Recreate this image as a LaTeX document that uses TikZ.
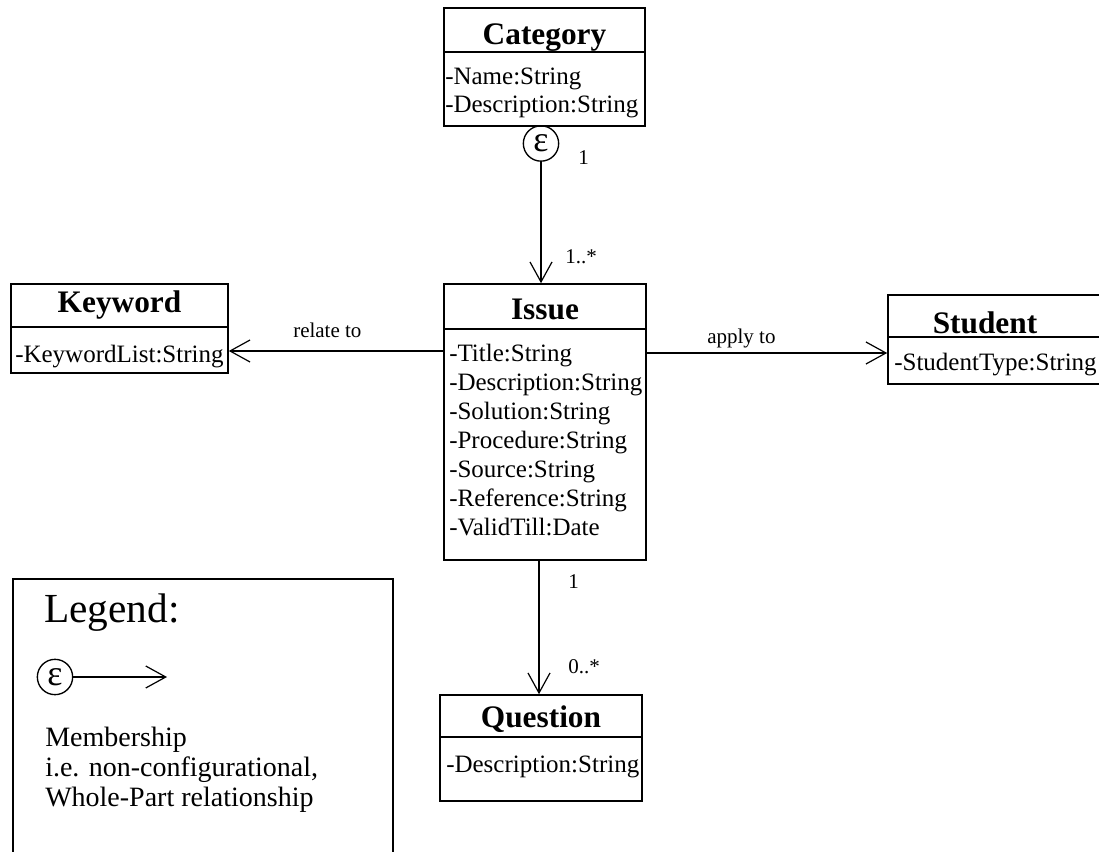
\documentclass[tikz,border=0pt]{standalone}
\usepackage{fontspec}
\setmainfont{Liberation Serif}
\usetikzlibrary{fit,arrows.meta}
\begin{document}
\begin{tikzpicture}[x=0.75pt,y=-0.75pt,
  classbox/.style={draw, line width=1.2pt, inner sep=0pt},
  sepline/.style={line width=1.2pt},
  head/.style={font=\fontsize{23.5}{28}\selectfont\bfseries, anchor=base, inner sep=0pt},
  attr/.style={font=\fontsize{18.75}{22}\selectfont, anchor=base west, inner sep=0pt},
  lbl/.style={font=\fontsize{15.75}{19}\selectfont, anchor=base west, inner sep=0pt},
  assoc/.style={line width=0.9pt, -{Straight Barb[length=15pt,width=16.5pt,line width=0.9pt]}},
  member/.style={draw, circle, line width=1pt, inner sep=0pt, minimum size=26.5pt,
    font=\fontsize{27}{27}\selectfont},
  legtext/.style={font=\fontsize{21}{23}\selectfont, anchor=base west, inner sep=0pt}]
\useasboundingbox (0,0) rectangle (1099,852);
\clip (0,0) rectangle (1099,852);

% Category
\node[classbox, fit={(444,8) (645,126)}] (cat) {};
\draw[sepline] (444,52) -- (645,52);
\node[head] (cathead) at (544.5,45) {Category};
\node[attr] (cata1) at (445,85) {-Name:String};
\node[attr] (cata2) at (445,113) {-Description:String};
\node[member] (eps1) at (541,143.5) {ε};

% Issue
\node[classbox, fit={(444,284) (646,560)}] (issue) {};
\draw[sepline] (444,329) -- (646,329);
\node[head] (isshead) at (545,320) {Issue};
\node[attr] (issa1) at (449,361) {-Title:String};
\node[attr] (issa2) at (449,390) {-Description:String};
\node[attr] (issa3) at (449,419) {-Solution:String};
\node[attr] (issa4) at (449,448) {-Procedure:String};
\node[attr] (issa5) at (449,477) {-Source:String};
\node[attr] (issa6) at (449,506) {-Reference:String};
\node[attr] (issa7) at (449,535) {-ValidTill:Date};

% Keyword
\node[classbox, fit={(11,284) (228,373)}] (kw) {};
\draw[sepline] (11,327) -- (228,327);
\node[head] (kwhead) at (119.5,312) {Keyword};
\node[attr] (kwa1) at (15,362) {-KeywordList:String};

% Student
\node[classbox, fit={(888,295) (1110,384)}] (stu) {};
\draw[sepline] (888,337) -- (1110,337);
\node[head] (stuhead) at (985,333) {Student};
\node[attr] (stua1) at (894,370) {-StudentType:String};

% Question
\node[classbox, fit={(440,695) (642,801)}] (quest) {};
\draw[sepline] (440,737) -- (642,737);
\node[head] (qhead) at (541,727) {Question};
\node[attr] (qa1) at (446,772) {-Description:String};

% Associations
\draw[assoc] (eps1.south) -- (eps1.south |- issue.north);
\node[lbl] (m1) at (578,165) {1};
\node[lbl] (m2) at (565,263) {1..*};

\coordinate (rel) at (0,351);
\draw[assoc] (rel -| issue.west) -- (rel -| kw.east);
\node[lbl] (rlabel) at (293,337) {relate to};

\coordinate (app) at (0,353);
\draw[assoc] (app -| issue.east) -- (app -| stu.west);
\node[lbl] (alabel) at (707,343) {apply to};

\coordinate (qx) at (539,0);
\draw[assoc] (qx |- issue.south) -- (qx |- quest.north);
\node[lbl] (m3) at (568,588) {1};
\node[lbl] (m4) at (568,673) {0..*};

% Legend
\node[classbox, fit={(13,579) (393,880)}] (legend) {};
\node[anchor=base west, inner sep=0pt, font=\fontsize{31}{36}\selectfont] (legtitle) at (44,622) {Legend:};
\node[member] (leps) at (55,677) {ε};
\coordinate (legtip) at (167,677);
\draw[assoc] (leps.east) -- (legtip);
\node[legtext] (leg1) at (45,746) {Membership};
\node[legtext] (leg2) at (45,776) {i.e. non-configurational,};
\node[legtext] (leg3) at (45,806) {Whole-Part relationship};
\end{tikzpicture}
\end{document}
